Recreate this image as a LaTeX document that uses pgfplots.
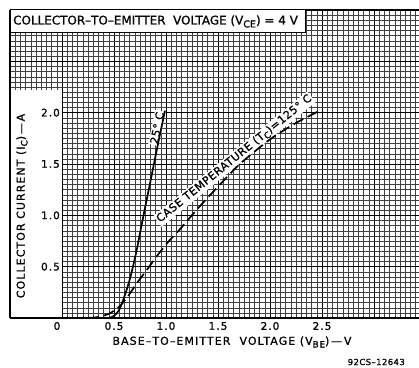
\documentclass[border=0pt]{standalone}
\usepackage{fontspec}
\setmainfont{DejaVu Sans}[FakeBold=1]
\newfontfamily\titlefont{DejaVu Sans}[FakeBold=1]
\newfontfamily\spfont{DejaVu Sans}[FakeBold=1, LetterSpace=10]
\newfontfamily\smfont{DejaVu Sans}[FakeBold=1, LetterSpace=5]
\usepackage{pgfplots}
\pgfplotsset{compat=1.18}
\newcommand{\sub}[1]{\raisebox{-0.45ex}{\scalebox{0.8}{#1}}}

\begin{document}
\begin{tikzpicture}[x=1bp,y=1bp]
\begin{axis}[
  at={(0,0)}, anchor=south west,
  x=104bp, y=102.67bp,
  xmin=-0.5, xmax=3.43, ymin=0, ymax=3,
  xtick={-0.5,0,0.5,1,1.5,2,2.5,3},
  ytick={0,0.5,1,1.5,2,2.5,3},
  minor xtick={-0.5,-0.45,...,3.45},
  minor ytick={0,0.05,...,3.01},
  grid=both,
  major grid style={black, line width=0.9bp},
  minor grid style={black!75, line width=0.4bp},
  xticklabels={}, yticklabels={},
  major tick length=0pt, minor tick length=0pt,
  axis line style={draw=none},
]
\node[font=\smfont\fontsize{11}{12}\selectfont, fill=white, inner sep=1.2bp, rotate=78.6, anchor=south] at (axis cs:0.965,1.84) {25° C};
\node[font=\smfont\fontsize{11}{12}\selectfont, fill=white, inner sep=1.2bp, rotate=39, anchor=south] at (axis cs:1.70,1.495) {CASE TEMPERATURE (T\sub{C})=125° C};
\addplot[black, line width=1.7bp, smooth, tension=0.4] coordinates {
(0.45,0) (0.5,0.02) (0.55,0.08) (0.59,0.18) (0.62,0.27) (0.65,0.37) (0.68,0.49) (0.72,0.67) (0.77,0.93) (0.85,1.33) (0.92,1.68) (0.99,2.02)};
\addplot[black, line width=1.7bp, dash pattern=on 11bp off 5bp, smooth, tension=0.4] coordinates {
(0.25,0) (0.35,0.01) (0.46,0.045) (0.56,0.12) (0.64,0.22) (0.72,0.34) (0.81,0.46) (0.91,0.60) (1.02,0.74) (1.13,0.86) (1.3,1.06) (1.5,1.28) (1.71,1.50) (2.0,1.74) (2.25,1.90) (2.48,2.02)};
\end{axis}
% y-label box
\fill[white] (0,0) rectangle (52,228);
\draw[line width=1.2bp] (0,0) -- (0,308);
\draw[line width=0.9bp] (52,0) -- (52,228);
\draw[line width=1.4bp] (0,0) -- (409,0);
\draw[line width=1bp] (0,308) -- (409,308);
% title box
\filldraw[fill=white, draw=black, line width=1bp] (0,285) rectangle (295,308);
\node[anchor=west, inner sep=0pt, font=\titlefont\fontsize{12}{13}\selectfont] at (3,296.5) {COLLECTOR–TO–EMITTER\ \ VOLTAGE (V\sub{CE}) = 4 V};
% tick labels
\foreach \v/\t in {0.5/0.5,1/1.0,1.5/1.5,2/2.0,2.5/2.5} {
  \node[font=\spfont\fontsize{10.5}{11}\selectfont, inner sep=0pt] at ({52+104*\v},-8) {\t};
}
\node[font=\spfont\fontsize{10.5}{11}\selectfont, inner sep=0pt] at (47,-8) {0};
\foreach \v/\t in {0.5/0.5,1/1.0,1.5/1.5,2/2.0} {
  \node[font=\spfont\fontsize{10.5}{11}\selectfont, inner sep=0pt, anchor=east] at (50,{102.67*\v}) {\t};
}
\node[rotate=90, font=\spfont\fontsize{11}{12}\selectfont, inner sep=0pt] at (12,112) {COLLECTOR CURRENT (I\sub{C})\,—\,A};
\node[font=\spfont\fontsize{11}{12}\selectfont, inner sep=0pt] at (222,-24) {BASE–TO–EMITTER\ \ VOLTAGE (V\sub{BE})\,—\,V};
\node[font=\smfont\fontsize{8.5}{9}\selectfont, inner sep=0pt, anchor=east] at (395,-44) {92CS–12643};
\pgfresetboundingbox
\useasboundingbox (-10,-50) rectangle (409,318);
\end{tikzpicture}
\end{document}
